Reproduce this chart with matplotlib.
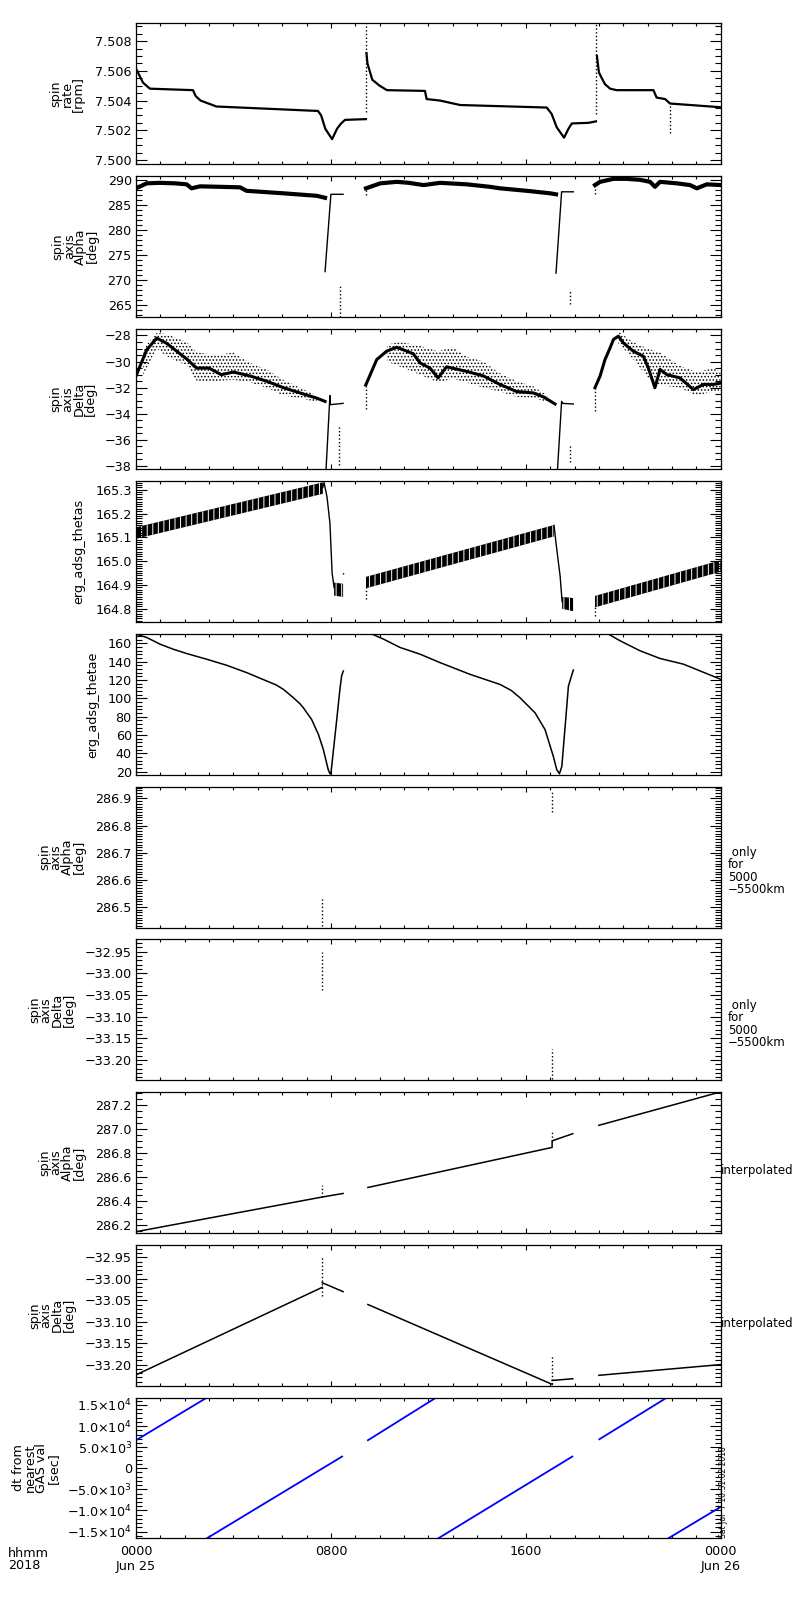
import matplotlib
matplotlib.use('Agg')
import matplotlib.pyplot as plt
from matplotlib.ticker import MultipleLocator, FixedLocator, FuncFormatter

plt.rcParams['font.family'] = ['DejaVu Sans']
plt.rcParams['font.size'] = 9.2
plt.rcParams['hatch.linewidth'] = 0.7

# time axis: hours since 0000 Jun 25 2018
hour_ticks = [0, 8, 16, 24]
hour_labels = ['0000\nJun 25', '0800', '1600', '0000\nJun 26']

# --- spin rate [rpm] ---
rate_t = [[0, 0.29, 0.57, 2.34, 2.45, 2.65, 3.3, 7.47, 7.6, 7.77, 8.05, 8.25, 8.42, 8.58, 9.44],
          [9.46, 9.5, 9.7, 10.0, 10.3, 11.86, 11.93, 12.48, 13.3, 16.86, 17.06, 17.27, 17.57, 17.75, 17.89, 18.57, 18.88],
          [18.92, 19.0, 19.09, 19.25, 19.46, 19.73, 21.24, 21.37, 21.72, 21.92, 24.0]]
rate_v = [[7.50615, 7.5052, 7.5048, 7.5047, 7.5043, 7.5040, 7.5036, 7.5033, 7.5030, 7.5021, 7.5014, 7.5021, 7.50246, 7.5027, 7.50275],
          [7.5072, 7.5065, 7.5054, 7.5050, 7.5047, 7.50465, 7.5041, 7.5040, 7.5037, 7.50353, 7.5031, 7.5022, 7.5015, 7.5021, 7.50246, 7.5025, 7.5026],
          [7.5070, 7.5059, 7.5056, 7.5051, 7.5048, 7.5047, 7.5047, 7.5042, 7.5041, 7.5038, 7.50355]]
rate_dot_t = [9.44, 18.88, 21.92]
rate_dot_lo = [7.5032, 7.5031, 7.5018]
rate_dot_hi = [7.5092, 7.5092, 7.5037]

# --- spin axis alpha [deg] ---
alpha_t = [[0, 0.44, 0.98, 1.6, 2.08, 2.28, 2.63, 4.27, 4.54, 6.05, 7.42, 7.76],
           [9.44, 10.03, 10.7, 11.2, 11.8, 12.48, 13.57, 14.53, 14.94, 16.04, 17.0, 17.24],
           [18.84, 19.05, 19.6, 20.14, 20.69, 21.1, 21.3, 21.51, 22.2, 22.74, 23.02, 23.43, 24.0]]
alpha_v = [[288.4, 289.4, 289.5, 289.4, 289.2, 288.4, 288.8, 288.6, 287.9, 287.4, 286.9, 286.5],
           [288.4, 289.4, 289.7, 289.5, 289.05, 289.5, 289.2, 288.7, 288.4, 287.9, 287.4, 287.2],
           [289.05, 289.7, 290.3, 290.3, 290.1, 289.7, 288.7, 289.7, 289.4, 289.05, 288.4, 289.2, 289.05]]
alpha_drop_t = [[7.76, 8.0, 8.5], [17.24, 17.47, 17.95]]
alpha_drop_v = [[271.7, 287.2, 287.2], [271.4, 287.7, 287.7]]
alpha_dot_t = [8.37, 17.8, 9.44, 18.84]
alpha_dot_lo = [262.7, 265.3, 287.0, 287.2]
alpha_dot_hi = [269.2, 268.1, 288.2, 288.8]

# --- spin axis delta [deg] ---
delta_t = [[0, 0.44, 0.85, 1.26, 1.53, 2.08, 2.49, 3.0, 3.5, 4.0, 4.68, 5.36, 6.05, 6.73, 7.42, 7.76],
           [9.43, 9.88, 10.29, 10.7, 11.38, 11.66, 12.07, 12.4, 12.75, 13.57, 14.26, 14.94, 15.63, 16.31, 16.72, 17.2],
           [18.84, 19.05, 19.25, 19.46, 19.6, 19.8, 20.0, 20.41, 20.83, 21.03, 21.3, 21.51, 21.79, 22.33, 22.88, 23.29, 23.7, 24.0]]
delta_v = [[-31.1, -29.1, -28.2, -28.6, -29.0, -29.8, -30.5, -30.5, -31.0, -30.8, -31.1, -31.5, -32.0, -32.4, -32.8, -33.05],
           [-31.8, -29.85, -29.2, -28.9, -29.4, -30.1, -30.5, -31.25, -30.4, -30.75, -31.1, -31.75, -32.3, -32.4, -32.7, -33.25],
           [-32.0, -31.1, -29.85, -28.95, -28.3, -28.05, -28.56, -29.2, -29.6, -30.5, -32.0, -30.6, -31.0, -31.25, -32.15, -31.75, -31.75, -31.65]]
delta_sp_t = [[0.3, 0.85, 1.26, 2.08, 2.5, 3.3, 4.0, 4.68, 5.36, 6.05, 6.73, 7.42],
              [10.3, 10.84, 11.66, 12.4, 13.0, 13.57, 14.26, 14.94, 15.63, 16.31, 16.9],
              [19.8, 20.4, 21.0, 21.5, 22.3, 23.0, 23.7, 24.0]]
delta_sp_hi = [[-29.0, -27.8, -27.9, -28.5, -29.3, -29.5, -29.3, -30.1, -30.6, -31.4, -32.0, -32.6],
               [-28.7, -28.5, -28.8, -29.2, -28.9, -29.6, -30.0, -30.9, -31.5, -31.9, -32.6],
               [-27.7, -28.5, -29.0, -29.3, -30.3, -30.8, -30.5, -30.8]]
delta_sp_lo = [[-31.0, -29.0, -29.6, -30.3, -31.5, -31.5, -31.4, -31.6, -32.0, -32.6, -32.8, -33.1],
               [-30.0, -30.4, -31.0, -31.6, -31.3, -31.6, -32.0, -32.3, -32.7, -32.8, -33.1],
               [-28.6, -29.8, -31.2, -31.8, -32.0, -32.6, -32.3, -32.2]]
delta_drop_t = [[7.8, 7.96, 7.98, 8.5], [17.3, 17.47, 17.5, 17.95]]
delta_drop_v = [[-38.3, -32.6, -33.3, -33.2], [-38.3, -33.05, -33.2, -33.25]]
delta_dot_t = [8.35, 17.82, 9.43, 18.84]
delta_dot_lo = [-37.9, -37.7, -33.6, -33.8]
delta_dot_hi = [-34.85, -36.4, -31.9, -32.0]

# --- erg_adsg_thetas (oscillating band) ---
thetas_t = [[0, 7.67], [9.44, 17.16], [18.84, 24.0]]
thetas_mid = [[165.118, 165.307], [164.91, 165.128], [164.83, 164.98]]
thetas_half = 0.024
thetas_drop_t = [[7.67, 7.72, 7.84, 7.96, 8.05, 8.13], [17.16, 17.24, 17.41, 17.49]]
thetas_drop_v = [[165.31, 165.33, 165.27, 165.16, 164.95, 164.89], [165.15, 165.076, 164.936, 164.83]]
thetas_blob_t = [[8.13, 8.5], [17.49, 17.94]]
thetas_blob_lo = [[164.855, 164.85], [164.80, 164.79]]
thetas_blob_hi = [[164.91, 164.905], [164.85, 164.845]]
thetas_dot_t = [8.5, 9.44, 18.84]
thetas_dot_lo = [164.945, 164.84, 164.77]
thetas_dot_hi = [164.955, 164.89, 164.81]

# --- erg_adsg_thetae ---
thetae_t = [[0, 0.44, 0.99, 1.53, 2.08, 2.9, 3.72, 4.54, 5.36, 5.75, 6.05, 6.46, 6.73, 6.87, 7.21, 7.49, 7.69, 7.89, 7.96,
             8.0, 8.24, 8.37, 8.44, 8.51],
            [9.44, 9.69, 10.16, 10.84, 11.66, 12.48, 13.71, 14.94, 15.4, 15.76, 16.38, 16.79, 17.13, 17.27, 17.38,
             17.48, 17.75, 17.95],
            [18.84, 19.39, 19.87, 20.69, 21.51, 22.47, 24.0]]
thetae_v = [[169.9, 166.2, 158.9, 153.4, 148.7, 142.5, 135.9, 127.9, 118.8, 114.5, 109.6, 100.5, 93.9, 89.5, 76.7, 60.3, 43.9, 22.0, 17.6,
             17.6, 76.7, 109.6, 124.3, 129.6],
            [169.9, 169.9, 164.4, 155.3, 148.0, 138.8, 126.0, 115.0, 108.5, 100.5, 84.0, 65.7, 36.5, 22.0, 17.6,
             25.6, 113.2, 130.7],
            [169.9, 169.9, 162.6, 151.7, 143.3, 137.1, 120.6]]

# --- alpha / delta only for 5000-5500 km ---
alpha_r_t = [7.64, 17.09]
alpha_r_lo = [286.43, 286.85]
alpha_r_hi = [286.535, 286.927]
delta_r_t = [7.64, 17.09]
delta_r_lo = [-33.038, -33.245]
delta_r_hi = [-32.952, -33.175]

# --- interpolated alpha / delta ---
alpha_i_t = [[0, 7.64, 8.5], [9.52, 17.08, 17.08, 17.93], [19.0, 24.0]]
alpha_i_v = [[286.14, 286.43, 286.46], [286.51, 286.845, 286.90, 286.96], [287.03, 287.31]]
alpha_i_dot_t = [7.64, 17.08]
alpha_i_dot_lo = [286.43, 286.90]
alpha_i_dot_hi = [286.53, 286.97]
delta_i_t = [[0, 7.64], [7.64, 8.5], [9.52, 17.08], [17.08, 17.93], [19.0, 24.0]]
delta_i_v = [[-33.224, -33.02], [-33.009, -33.03], [-33.06, -33.246], [-33.237, -33.233], [-33.225, -33.20]]
delta_i_dot_t = [7.64, 17.08]
delta_i_dot_lo = [-33.04, -33.246]
delta_i_dot_hi = [-32.95, -33.177]

# --- dt from nearest GAS val [sec] ---
dt_t = [[0, 2.91], [2.91, 8.46], [9.52, 12.32], [12.41, 17.91], [19.02, 21.79], [21.85, 24.0]]
dt_v = [[6641, 16750], [-16600, 2781], [6641, 16750], [-16600, 2781], [6878, 16750], [-16600, -9154]]
dt_ticks = [-15000, -10000, -5000, 0, 5000, 10000, 15000]
dt_tick_text = ['\u22121.5\u00d710$^{4}$', '\u22121.0\u00d710$^{4}$', '\u22125.0\u00d710$^{3}$', '0',
                '5.0\u00d710$^{3}$', '1.0\u00d710$^{4}$', '1.5\u00d710$^{4}$']

# panel setup
ylims = [(7.49973, 7.5092), (262.66, 290.87), (-38.26, -27.48), (164.744, 165.335), (16.4, 169.9),
         (286.424, 286.943), (-33.247, -32.922), (286.13, 287.307), (-33.249, -32.921), (-16600, 16750)]
majors = [0.002, 5, 2, 0.1, 20, 0.1, 0.05, 0.2, 0.05, 5000]
minors = [0.0005, 1, 0.5, 0.01, 4, 0.01, 0.01, 0.05, 0.01, 1000]
fmts = ['%.3f', '%d', '%d', '%.1f', '%d', '%.1f', '%.2f', '%.1f', '%.2f', None]
ytitles = ['spin\nrate\n[rpm]', 'spin\naxis\nAlpha\n[deg]', 'spin\naxis\nDelta\n[deg]',
           'erg_adsg_thetas', 'erg_adsg_thetae', 'spin\naxis\nAlpha\n[deg]', 'spin\naxis\nDelta\n[deg]',
           'spin\naxis\nAlpha\n[deg]', 'spin\naxis\nDelta\n[deg]', 'dt from\nnearest\nGAS val\n[sec]']
ytitle_x = [67, 75, 73, 79, 93, 62, 52, 62, 52, 36]

W, H = 800, 1600
fig = plt.figure(figsize=(8, 16), dpi=100)
left, width = 136, 584.7
top0, ph, step = 23.3, 140.7, 152.7

axes = []
for i in range(10):
    top = top0 + i * step
    ax = fig.add_axes([left / W, 1 - (top + ph) / H, width / W, ph / H])
    ax.set_xlim(0, 24)
    ax.set_ylim(*ylims[i])
    ax.xaxis.set_major_locator(FixedLocator(hour_ticks))
    ax.xaxis.set_minor_locator(MultipleLocator(1))
    ax.yaxis.set_major_locator(MultipleLocator(majors[i]))
    ax.yaxis.set_minor_locator(MultipleLocator(minors[i]))
    if fmts[i]:
        f = fmts[i]
        ax.yaxis.set_major_formatter(FuncFormatter(lambda v, p, f=f: (f % v).replace('-', '\u2212')))
    ax.tick_params(which='both', direction='in', top=True, right=True, width=0.8, pad=3)
    ax.tick_params(axis='y', which='major', length=8)
    ax.tick_params(axis='y', which='minor', length=4.5)
    ax.tick_params(axis='x', which='major', length=3.5)
    ax.tick_params(axis='x', which='minor', length=2.3)
    for s in ax.spines.values():
        s.set_linewidth(0.9)
    if i < 9:
        ax.set_xticklabels([])
    else:
        ax.set_xticklabels(hour_labels)
        ax.tick_params(axis='x', pad=5)
    fig.text(ytitle_x[i] / W, 1 - (top + ph / 2) / H, ytitles[i], rotation=90, ha='center', va='center',
             multialignment='center', linespacing=0.85)
    axes.append(ax)

# 1 spin rate
ax = axes[0]
for t, v in zip(rate_t, rate_v):
    ax.plot(t, v, color='k', lw=1.6)
ax.vlines(rate_dot_t, rate_dot_lo, rate_dot_hi, colors='k', linestyles=':', lw=1)

# 2 spin axis alpha
ax = axes[1]
for t, v in zip(alpha_t, alpha_v):
    ax.plot(t, v, color='k', lw=3)
for t, v in zip(alpha_drop_t, alpha_drop_v):
    ax.plot(t, v, color='k', lw=1)
ax.vlines(alpha_dot_t, alpha_dot_lo, alpha_dot_hi, colors='k', linestyles=':', lw=1)

# 3 spin axis delta
ax = axes[2]
for t, lo, hi in zip(delta_sp_t, delta_sp_lo, delta_sp_hi):
    ax.fill_between(t, lo, hi, facecolor='none', edgecolor='k', hatch='.....', lw=0)
for t, v in zip(delta_t, delta_v):
    ax.plot(t, v, color='k', lw=2.2)
for t, v in zip(delta_drop_t, delta_drop_v):
    ax.plot(t, v, color='k', lw=1)
ax.vlines(delta_dot_t, delta_dot_lo, delta_dot_hi, colors='k', linestyles=':', lw=1)

# 4 thetas
ax = axes[3]
for t, m in zip(thetas_t, thetas_mid):
    ax.fill_between(t, [x - thetas_half for x in m], [x + thetas_half for x in m],
                    facecolor='k', edgecolor='w', hatch='|||', lw=0)
for t, v in zip(thetas_drop_t, thetas_drop_v):
    ax.plot(t, v, color='k', lw=1)
for t, lo, hi in zip(thetas_blob_t, thetas_blob_lo, thetas_blob_hi):
    ax.fill_between(t, lo, hi, facecolor='k', edgecolor='w', hatch='|||', lw=0)
ax.vlines(thetas_dot_t, thetas_dot_lo, thetas_dot_hi, colors='k', linestyles=':', lw=1)

# 5 thetae
ax = axes[4]
for t, v in zip(thetae_t, thetae_v):
    ax.plot(t, v, color='k', lw=1.1)

# 6, 7 only for 5000-5500 km
axes[5].vlines(alpha_r_t, alpha_r_lo, alpha_r_hi, colors='k', linestyles=':', lw=1)
axes[6].vlines(delta_r_t, delta_r_lo, delta_r_hi, colors='k', linestyles=':', lw=1)

# 8, 9 interpolated
ax = axes[7]
for t, v in zip(alpha_i_t, alpha_i_v):
    ax.plot(t, v, color='k', lw=1.1)
ax.vlines(alpha_i_dot_t, alpha_i_dot_lo, alpha_i_dot_hi, colors='k', linestyles=':', lw=1)
ax = axes[8]
for t, v in zip(delta_i_t, delta_i_v):
    ax.plot(t, v, color='k', lw=1.1)
ax.vlines(delta_i_dot_t, delta_i_dot_lo, delta_i_dot_hi, colors='k', linestyles=':', lw=1)

# 10 dt
ax = axes[9]
for t, v in zip(dt_t, dt_v):
    ax.plot(t, v, color='#0000ff', lw=1.3)
ax.yaxis.set_major_locator(FixedLocator(dt_ticks))
ax.set_yticklabels(dt_tick_text)

# right side notes
for i in (5, 6):
    yc = top0 + i * step + ph / 2 + 14
    fig.text(728 / W, 1 - yc / H, ' only\nfor\n5000\n\u22125500km', ha='left', va='center',
             fontsize=8.5, linespacing=0.95)
for i in (7, 8):
    yc = top0 + i * step + ph / 2 + 8
    fig.text(721 / W, 1 - yc / H, 'interpolated', ha='left', va='center', fontsize=8.5)

fig.text(724 / W, 1 - 1538 / H, 'Sat Jul  7 10:31:02 2018', rotation=90, ha='center', va='bottom', fontsize=5.5)
fig.text(8 / W, 1 - 1547 / H, 'hhmm\n2018', ha='left', va='top', linespacing=0.9)

fig.savefig('out.png', dpi=100)
